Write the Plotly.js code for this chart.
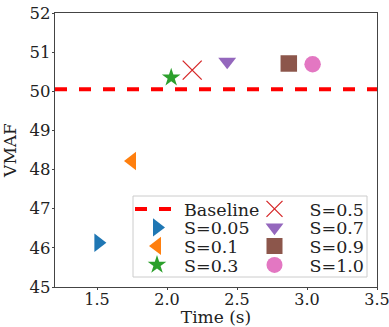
<!DOCTYPE html>
<html><head><meta charset="utf-8">
<script src="https://cdn.plot.ly/plotly-3.0.1.min.js"></script>
<style>body{margin:0;padding:0;background:#fff}#plot{width:389px;height:327px}</style>
</head><body><div id="plot"></div>
<script>
const labels = ["S=0.05","S=0.1","S=0.3","S=0.5","S=0.7","S=0.9","S=1.0"];
const times  = [1.51, 1.75, 2.03, 2.18, 2.43, 2.87, 3.04];
const vmaf   = [46.13, 48.22, 50.35, 50.54, 50.76, 50.71, 50.69];
const colors = ["#1f77b4","#ff7f0e","#2ca02c","#d62728","#9467bd","#8c564b","#e377c2"];
const symbols = ["triangle-right","triangle-left","star","x-thin","triangle-down","square","circle"];
const baselineVMAF = 50.05;
const xRange = [1.2, 3.5];
const yRange = [45, 52];
const xTicks = [1.5, 2.0, 2.5, 3.0, 3.5];
const xTickText = ['1.5','2.0','2.5','3.0','3.5'];

const font = "DejaVu Serif, serif";
const W = 389, H = 327, M = {l:55, r:12, t:13, b:40};
const pw = W - M.l - M.r, ph = H - M.t - M.b;
const px2x = p => (p - M.l) / pw;
const px2y = p => (H - M.b - p) / ph;
const markerSize = {"triangle-right":16, "triangle-left":16, "triangle-down":15.5, "star":14,
  "x-thin":19, "square":16.5, "circle":16.5};

// legend columns: left edge px and symbol-area width; row centers px
const colX = [130, 239.5];
const colItemW = [44, 60];
const rowY = [209, 227.5, 246, 265];
// legend order: column-major like matplotlib
const legendOrder = [null, 0, 1, 2, 3, 4, 5, 6];

const traces = [];
const layout = {
  width:W, height:H, margin:M,
  paper_bgcolor:'#fff', plot_bgcolor:'#fff',
  font:{family:font, size:16, color:'#222'},
  showlegend:true,
  xaxis:{range:xRange, tickvals:xTicks, ticktext:xTickText,
    showgrid:false, zeroline:false, showline:true, mirror:true, linecolor:'#444', linewidth:1.2,
    ticks:'outside', ticklen:2, tickcolor:'#444', tickfont:{size:16, family:font},
    ticklabelstandoff:-4, ticklabeloverflow:'allow',
    title:{text:'Time (s)', font:{size:17, family:font}}, automargin:false},
  yaxis:{range:yRange, dtick:1, showgrid:false, zeroline:false, showline:true, mirror:true,
    linecolor:'#444', linewidth:1.2, ticks:'outside', ticklen:2, tickcolor:'#444',
    tickfont:{size:16.5, family:font}, ticklabelstandoff:-2,
    title:{text:'VMAF', font:{size:17, family:font}}, automargin:false},
  shapes:[{type:'rect', xref:'paper', yref:'paper', x0:px2x(133), x1:px2x(367), y0:px2y(277), y1:px2y(196),
    line:{color:'#cccccc', width:1}, fillcolor:'rgba(255,255,255,0.8)', layer:'above'}]
};

legendOrder.forEach((idx, k) => {
  const lname = k === 0 ? 'legend' : 'legend' + (k + 1);
  const col = Math.floor(k / 4), row = k % 4;
  layout[lname] = {x:px2x(colX[col]), y:px2y(rowY[row]), xanchor:'left', yanchor:'middle',
    bgcolor:'rgba(0,0,0,0)', borderwidth:0, font:{size:17.5, family:font},
    itemsizing:'trace', itemwidth:colItemW[col]};
  if (idx === null) {
    traces.push({x:xRange, y:[baselineVMAF, baselineVMAF], type:'scatter', mode:'lines',
      name:'Baseline', legend:lname, line:{color:'#ff0000', width:4, dash:'dash'}});
  } else {
    const s = symbols[idx];
    traces.push({x:[times[idx]], y:[vmaf[idx]], type:'scatter', mode:'markers', name:labels[idx],
      legend:lname, cliponaxis:false,
      marker:{symbol:s, size:markerSize[s], color:colors[idx],
        line: s==='x-thin' ? {color:colors[idx], width:1.3} : {width:0}}});
  }
});

Plotly.newPlot('plot', traces, layout, {displayModeBar:false, staticPlot:true});
</script></body></html>
